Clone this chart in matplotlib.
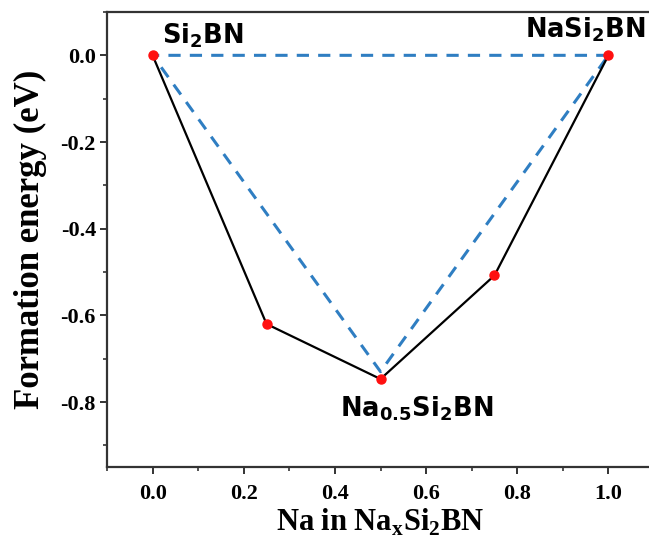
import numpy as np
import matplotlib.pyplot as plt
from matplotlib.ticker import MultipleLocator

# formation energies for Na_x Si2BN
x_na = [0.0, 0.25, 0.5, 0.75, 1.0]
e_form = [0.0, -0.62, -0.747, -0.508, 0.0]

# convex hull (dashed)
hull_x = [1.0, 0.0, 0.5, 1.0]
hull_e = [0.0, 0.0, -0.73, 0.0]

xticks = [0.0, 0.2, 0.4, 0.6, 0.8, 1.0]
yticks = [-0.8, -0.6, -0.4, -0.2, 0.0]
labels = [r'Si$_{\mathbf{2}}$BN', r'NaSi$_{\mathbf{2}}$BN', r'Na$_{\mathbf{0.5}}$Si$_{\mathbf{2}}$BN']

plt.rcParams['mathtext.fontset'] = 'custom'
plt.rcParams['mathtext.bf'] = 'DejaVu Sans:bold'
plt.rcParams['mathtext.rm'] = 'Liberation Serif:bold'

fig = plt.figure(figsize=(6.49, 5.54), dpi=100)
# axes right edge sits just outside the picture (cropped figure)
ax = fig.add_axes([107 / 649, 1 - 467 / 554, 547 / 649, 455 / 554])

ax.plot(hull_x, hull_e, '--', color='#2F7EC2', lw=2.2, dashes=(4, 3), zorder=2)
ax.plot(x_na, e_form, '-', color='black', lw=1.6, zorder=3)
ax.plot(x_na, e_form, 'o', color='#FF1010', ms=6.5, zorder=4)

ax.set_xlim(-0.1, 1.1)
ax.set_ylim(-0.95, 0.1)
ax.set_xticks(xticks)
ax.set_yticks(yticks)
ax.xaxis.set_minor_locator(MultipleLocator(0.1))
ax.yaxis.set_minor_locator(MultipleLocator(0.1))

for s in ['left', 'bottom', 'top']:
    ax.spines[s].set_linewidth(1.6)
    ax.spines[s].set_color('#333333')
ax.spines['right'].set_visible(False)

ax.tick_params(which='major', direction='out', length=5, width=1.4, color='#333333')
ax.tick_params(which='minor', direction='out', length=3, width=1.2, color='#333333')
ax.tick_params(top=False, right=False, which='both')

tick_font = {'family': 'Liberation Serif', 'weight': 'bold', 'size': 16}
ax.set_xticklabels([f'{v:.1f}' for v in xticks], fontdict=tick_font)
ax.set_yticklabels([f'{v:.1f}' for v in yticks], fontdict=tick_font)
ax.tick_params(axis='x', pad=7)
ax.tick_params(axis='y', pad=3)

ax.set_xlabel(r'Na in Na$_\mathrm{x}$Si$_\mathrm{2}$BN', family='Liberation Serif',
              weight='bold', size=22, labelpad=2)
ax.set_ylabel('Formation energy (eV)', family='Liberation Serif', weight='bold', size=25,
              labelpad=10)

lab_font = {'family': 'DejaVu Sans', 'weight': 'bold', 'size': 18.5}
ax.annotate(labels[0], (x_na[0], e_form[0]), xytext=(6.5, 8.6), textcoords='offset points',
            ha='left', va='baseline', **lab_font)
ax.annotate(labels[1], (x_na[4], e_form[4]), xytext=(26.6, 13), textcoords='offset points',
            ha='right', va='baseline', **lab_font)
ax.annotate(labels[2], (x_na[2], e_form[2]), xytext=(26, -27), textcoords='offset points',
            ha='center', va='baseline', **lab_font)

fig.savefig('out.png', dpi=100)
